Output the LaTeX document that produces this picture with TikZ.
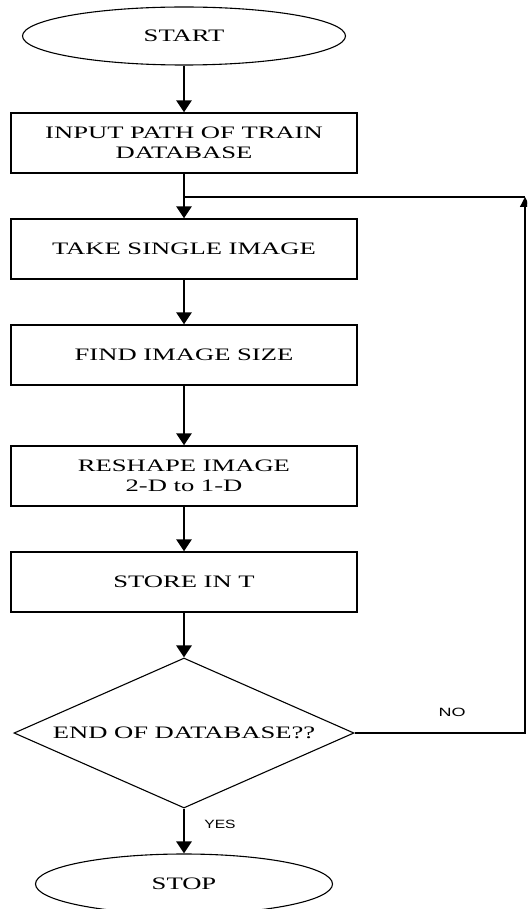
\documentclass[tikz,border=0pt]{standalone}
\usepackage{fontspec}
\setmainfont{Liberation Serif}[FakeStretch=1.52]
\newfontfamily\lblfont{Liberation Sans}[FakeStretch=1.3]
\newfontfamily\lblfontwide{Liberation Sans}[FakeStretch=1.5]
\usetikzlibrary{shapes.geometric,arrows.meta}
\begin{document}
\begin{tikzpicture}[x=1pt,y=-1pt,
  box/.style={draw, line width=1.3pt, minimum width=346pt, minimum height=60pt,
    inner sep=0pt, align=center, font=\fontsize{17.5}{20}\selectfont},
  term/.style={ellipse, draw, line width=1.1pt, inner sep=0pt,
    font=\fontsize{17.5}{20}\selectfont},
  dia/.style={diamond, draw, line width=1.1pt, minimum width=340pt,
    minimum height=150pt, inner sep=0pt},
  conn/.style={-{Triangle[width=15pt,length=12pt]}, line width=2.6pt},
  backline/.style={line width=1.3pt},
  backarrow/.style={-{Triangle[width=10pt,length=10pt]}, line width=1.3pt},
  lbl/.style={font=\lblfont\fontsize{12}{12}\selectfont, inner sep=0pt}]
\clip (0,0) rectangle (527,909);
\fill[white] (0,0) rectangle (527,909);

\node[term, minimum width=323pt, minimum height=58pt] (start) at (184,36) {START};
\node[box] (b1) at (184,143) {INPUT PATH OF TRAIN\\DATABASE};
\node[box] (b2) at (184,249) {TAKE SINGLE IMAGE};
\node[box] (b3) at (184,355) {FIND IMAGE SIZE};
\node[box] (b4) at (184,476) {RESHAPE IMAGE\\2-D to 1-D};
\node[box] (b5) at (184,582) {STORE IN T};
\node[dia] (d) at (184,733) {};
\node[font=\fontsize{17.5}{20}\selectfont, inner sep=0pt] (dt) at (d.center) {END OF DATABASE??};
\node[term, minimum width=297pt, minimum height=60pt] (stop) at (184,884) {STOP};

\coordinate (cr) at (525,733);
\coordinate (ct) at (525,197);
\coordinate (cj) at (184,197);

\draw[conn] (start) -- (b1);
\draw[conn] (b1) -- (b2);
\draw[conn] (b2) -- (b3);
\draw[conn] (b3) -- (b4);
\draw[conn] (b4) -- (b5);
\draw[conn] (b5) -- (d);
\draw[conn] (d) -- (stop);

\draw[backarrow] (d.east) -- (cr) -- (ct);
\draw[backline] (ct) -- (cj);

\node[lbl] (yes) at (220,824) {YES};
\node[lbl, font=\lblfontwide\fontsize{12}{12}\selectfont] (no) at (452,712) {NO};
\end{tikzpicture}
\end{document}
